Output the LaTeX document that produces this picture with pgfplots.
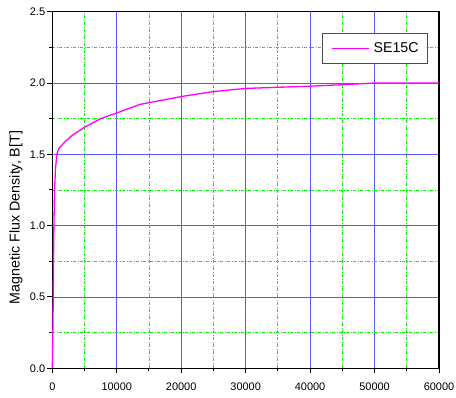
\documentclass[border=0pt]{standalone}
\usepackage{fontspec}
\setmainfont{Liberation Sans}
\usepackage{pgfplots}
\pgfplotsset{compat=1.18}
\definecolor{gridblue}{rgb}{0.35,0.35,1}
\definecolor{gridgreen}{rgb}{0,0.95,0}
\definecolor{curvemag}{rgb}{1,0,1}
\begin{document}
\begin{tikzpicture}
\begin{axis}[
  at={(0,0)}, anchor=south west,
  scale only axis,
  width=386.7bp, height=356.6bp,
  xmin=0, xmax=60000, ymin=0, ymax=2.5,
  xtick={0,10000,...,60000},
  ytick={0,0.5,...,2.5},
  minor tick num=1,
  grid=both,
  major grid style={gridblue, line width=0.9bp},
  minor grid style={gridgreen, line width=0.9bp, dash pattern=on 3bp off 1.5bp on 1bp off 1.5bp},
  axis line style={black, line width=1.2bp},
  tick align=outside,
  xtick pos=left, ytick pos=left,
  major tick length=5bp, minor tick length=3bp,
  every tick/.style={black, line width=1bp},
  scaled x ticks=false,
  /pgf/number format/assume math mode=true,
  tick label style={font=\fontsize{11}{13}\selectfont},
  xticklabel style={/pgf/number format/fixed, /pgf/number format/1000 sep={}, inner sep=0pt, anchor=north, yshift=-9bp},
  yticklabel style={/pgf/number format/fixed, /pgf/number format/fixed zerofill, /pgf/number format/precision=1, inner sep=0pt, anchor=east, xshift=-2bp},
  ylabel={Magnetic Flux Density, B[T]},
  ylabel style={at={(axis description cs:-0.094,0.423)}, anchor=center, rotate=0, font=\fontsize{14.3}{16}\selectfont},
  legend style={at={(0.972,0.939)}, anchor=north east, draw=black!70, line width=1bp,
    inner xsep=9bp, inner ysep=9bp, font=\fontsize{14.3}{16}\selectfont,
    nodes={inner sep=0pt}, column sep=4bp},
  legend image code/.code={\draw[#1, line width=1.4bp] (0bp,0bp) -- (37bp,0bp);},
  clip=false,
]
\addplot[curvemag, line width=1.3bp] coordinates {
(0,0) (100,0.3) (150,0.5) (200,0.8) (250,1.0) (350,1.25) (500,1.4) (700,1.5)
(1000,1.54) (2000,1.59) (3000,1.63) (5000,1.69) (7500,1.75) (10000,1.79)
(13600,1.85) (20000,1.905) (25000,1.94) (30000,1.962) (40000,1.978)
(45000,1.988) (50000,2.0) (60000,2.0)
};
\addlegendentry{SE15C\hspace{2bp}}
\end{axis}
\pgfresetboundingbox
\path[use as bounding box] (-52.3bp,-29.7bp) rectangle (403.7bp,368.3bp);
\end{tikzpicture}
\end{document}
